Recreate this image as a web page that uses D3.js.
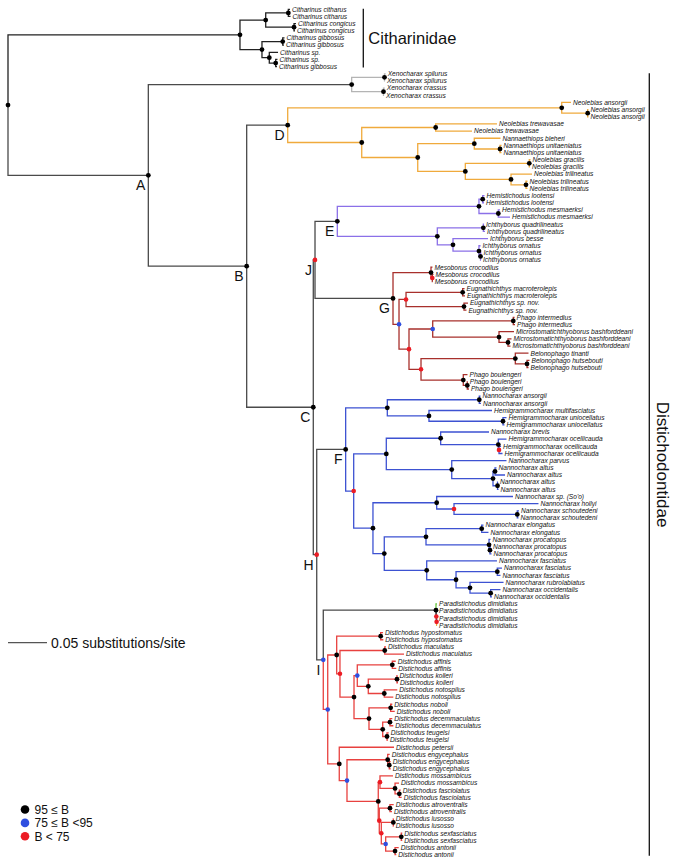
<!DOCTYPE html>
<html><head><meta charset="utf-8">
<script src="https://cdn.jsdelivr.net/npm/d3@7"></script>
<style>body{margin:0;background:#fff}</style>
</head><body>
<svg id="chart" width="683" height="864"></svg>
<script>
// ---------- DATA ----------
// Leaves: [name, parent node, cumulative distance from root (substitutions/site)] in top-to-bottom order
const citharinidaeLeaves = [
  ["Citharinus citharus","citP",0.3615],
  ["Citharinus citharus","citP",0.3622],
  ["Citharinus congicus","conP",0.3692],
  ["Citharinus congicus","conP",0.3679],
  ["Citharinus gibbosus","gibP",0.3545],
  ["Citharinus gibbosus","gibP",0.3538],
  ["Citharinus sp.","c3",0.3462],
  ["Citharinus sp.","c4",0.3455],
  ["Citharinus gibbosus","c4",0.3449]
];
const xenocharaxLeaves = [
  ["Xenocharax spilurus","xenoS",0.4842],
  ["Xenocharax spilurus","xenoS",0.4833],
  ["Xenocharax crassus","xenoC",0.4830],
  ["Xenocharax crassus","xenoC",0.4821]
];
const cladeDLeaves = [
  ["Neolebias ansorgii","nAns",0.7218],
  ["Neolebias ansorgii","nAns2",0.7442],
  ["Neolebias ansorgii","nAns2",0.7442],
  ["Neolebias trewavasae","trew",0.6269],
  ["Neolebias trewavasae","trew",0.5949],
  ["Nannaethiops bleheri","nanna",0.6314],
  ["Nannaethiops unitaeniatus","uni",0.6327],
  ["Nannaethiops unitaeniatus","uni",0.6327],
  ["Neolebias gracilis","grac",0.6699],
  ["Neolebias gracilis","grac",0.6692],
  ["Neolebias trilineatus","tril",0.6718],
  ["Neolebias trilineatus","tril2",0.6660],
  ["Neolebias trilineatus","tril2",0.6660]
];
const cladeELeaves = [
  ["Hemistichodus lootensi","hLoot",0.6109],
  ["Hemistichodus lootensi","hLoot",0.6103],
  ["Hemistichodus mesmaerksi","hMes",0.6308],
  ["Hemistichodus mesmaerksi","hMes",0.6436],
  ["Ichthyborus quadrilineatus","iQuad",0.6103],
  ["Ichthyborus quadrilineatus","iQuad",0.6115],
  ["Ichthyborus besse","i2",0.6154],
  ["Ichthyborus ornatus","iOrn",0.6058],
  ["Ichthyborus ornatus","iOrn2",0.6071],
  ["Ichthyborus ornatus","iOrn2",0.6064]
];
const cladeGLeaves = [
  ["Mesoborus crocodilus","mes1",0.5442],
  ["Mesoborus crocodilus","mes2",0.5455],
  ["Mesoborus crocodilus","mes2",0.5446],
  ["Eugnathichthys macroterolepis","eMac",0.5853],
  ["Eugnathichthys macroterolepis","eMac",0.5859],
  ["Eugnathichthys sp. nov.","eSp",0.5897],
  ["Eugnathichthys sp. nov.","eSp",0.5878],
  ["Phago intermedius","pInt",0.6494],
  ["Phago intermedius","pInt",0.6500],
  ["Microstomatichthyoborus bashforddeani","micro",0.6487],
  ["Microstomatichthyoborus bashforddeani","micro2",0.6455],
  ["Microstomatichthyoborus bashforddeani","micro2",0.6442],
  ["Belonophago tinanti","belo",0.6673],
  ["Belonophago hutsebouti","belo2",0.6686],
  ["Belonophago hutsebouti","belo2",0.6673],
  ["Phago boulengeri","pb1",0.5891],
  ["Phago boulengeri","pb2",0.5895],
  ["Phago boulengeri","pb2",0.5910]
];
const cladeFLeaves = [
  ["Nannocharax ansorgii","nAnsP",0.6058],
  ["Nannocharax ansorgii","nAnsP",0.6064],
  ["Hemigrammocharax multifasciatus","hemig",0.6205],
  ["Hemigrammocharax uniocellatus","uniP",0.6391],
  ["Hemigrammocharax uniocellatus","uniP",0.6365],
  ["Nannocharax brevis","F5",0.6167],
  ["Hemigrammocharax ocellicauda","oce",0.6391],
  ["Hemigrammocharax ocellicauda","oce2",0.6321],
  ["Hemigrammocharax ocellicauda","oce2",0.6340],
  ["Nannocharax parvus","F6",0.6391],
  ["Nannocharax altus","al2",0.6263],
  ["Nannocharax altus","al2",0.6372],
  ["Nannocharax altus","al3",0.6282],
  ["Nannocharax altus","al3",0.6289],
  ["Nannocharax sp. (So'o)","F8",0.6474],
  ["Nannocharax hollyi","hol",0.6801],
  ["Nannocharax schoutedeni","sch",0.6551],
  ["Nannocharax schoutedeni","sch",0.6545],
  ["Nannocharax elongatus","elo",0.6096],
  ["Nannocharax elongatus","elo",0.6160],
  ["Nannocharax procatopus","pro1",0.6186],
  ["Nannocharax procatopus","pro2",0.6192],
  ["Nannocharax procatopus","pro2",0.6199],
  ["Nannocharax fasciatus","F11",0.6269],
  ["Nannocharax fasciatus","fasP",0.6333],
  ["Nannocharax fasciatus","fasP",0.6314],
  ["Nannocharax rubrolabiatus","F13",0.6353],
  ["Nannocharax occidentalis","occ",0.6314],
  ["Nannocharax occidentalis","occ",0.6205]
];
const cladeILeaves = [
  ["Paradistichodus dimidiatus","para1",0.5500],
  ["Paradistichodus dimidiatus","para2",0.5500],
  ["Paradistichodus dimidiatus","para3",0.5500],
  ["Paradistichodus dimidiatus","para3",0.5500],
  ["Distichodus hypostomatus","hyp",0.4808],
  ["Distichodus hypostomatus","hyp",0.4812],
  ["Distichodus maculatus","mac",0.4846],
  ["Distichodus maculatus","mac",0.5077],
  ["Distichodus affinis","aff",0.4971],
  ["Distichodus affinis","aff",0.4978],
  ["Distichodus kolleri","kol",0.4994],
  ["Distichodus kolleri","kol",0.5000],
  ["Distichodus notospilus","not",0.4991],
  ["Distichodus notospilus","not",0.4940],
  ["Distichodus noboli","nob",0.4927],
  ["Distichodus noboli","nob",0.4958],
  ["Distichodus decemmaculatus","dec",0.4927],
  ["Distichodus decemmaculatus","dec",0.4940],
  ["Distichodus teugelsi","teu",0.4881],
  ["Distichodus teugelsi","teu",0.4872],
  ["Distichodus petersii","I4",0.4949],
  ["Distichodus engycephalus","eng1",0.4894],
  ["Distichodus engycephalus","eng2",0.4906],
  ["Distichodus engycephalus","eng2",0.4906],
  ["Distichodus mossambicus","M1",0.4936],
  ["Distichodus mossambicus","M2",0.5013],
  ["Distichodus fasciolatus","fol",0.5035],
  ["Distichodus fasciolatus","fol",0.5047],
  ["Distichodus atroventralis","atr",0.4945],
  ["Distichodus atroventralis","atr",0.4923],
  ["Distichodus lusosso","lus",0.4945],
  ["Distichodus lusosso","lus",0.4945],
  ["Distichodus sexfasciatus","sex",0.5055],
  ["Distichodus sexfasciatus","sex",0.5055],
  ["Distichodus antonii","ant",0.5009],
  ["Distichodus antonii","ant",0.4978]
];

// Internal nodes: [id, parent, cumulative distance, bootstrap class ("hi": 95<=B, "mid": 75<=B<95, "lo": B<75)]
const backboneNodes = [
  ["root",null,0,"hi"],
  ["cith","root",0.2974,"hi"],
  ["A","root",0.1799,"hi"],
  ["xeno","A",0.4406,"hi"],
  ["B","A",0.3060,"hi"],
  ["D","B",0.3586,"hi"],
  ["C","B",0.3914,"hi"],
  ["J","C",0.3936,"lo"],
  ["H","C",0.3958,"lo"],
  ["E","J",0.4222,"hi"],
  ["G","J",0.4936,"hi"],
  ["F","H",0.4329,"hi"],
  ["I","H",0.4042,"mid"]
];
const citharinidaeNodes = [
  ["c1","cith",0.3304,"hi"],
  ["c2","cith",0.3256,"hi"],
  ["citP","c1",0.3594,"hi"],
  ["conP","c1",0.3667,"hi"],
  ["gibP","c2",0.3522,"hi"],
  ["c3","c2",0.3350,"hi"],
  ["c4","c3",0.3432,"hi"],
  ["xenoS","xeno",0.4827,"hi"],
  ["xenoC","xeno",0.4814,"hi"]
];
const cladeDNodes = [
  ["nAns","D",0.7099,"hi"],
  ["nAns2","nAns",0.7432,"hi"],
  ["D2","D",0.4535,"hi"],
  ["trew","D2",0.5483,"hi"],
  ["D3","D2",0.5253,"hi"],
  ["nanna","D3",0.5978,"hi"],
  ["uni","nanna",0.6308,"hi"],
  ["D4","D3",0.5863,"hi"],
  ["grac","D4",0.6683,"hi"],
  ["tril","D4",0.6449,"hi"],
  ["tril2","tril",0.6641,"hi"]
];
const cladeENodes = [
  ["hemi","E",0.6038,"hi"],
  ["hLoot","hemi",0.6086,"hi"],
  ["hMes","hemi",0.6286,"hi"],
  ["ich","E",0.5504,"hi"],
  ["iQuad","ich",0.6094,"hi"],
  ["i2","ich",0.5705,"hi"],
  ["iOrn","i2",0.6038,"hi"],
  ["iOrn2","iOrn",0.6058,"hi"]
];
const cladeGNodes = [
  ["mes1","G",0.5423,"hi"],
  ["mes2","mes1",0.5440,"lo"],
  ["G2","G",0.5013,"mid"],
  ["eug","G2",0.5103,"lo"],
  ["eMac","eug",0.5829,"hi"],
  ["eSp","eug",0.5846,"hi"],
  ["G3","G2",0.5141,"lo"],
  ["G4","G3",0.5445,"mid"],
  ["pInt","G4",0.6478,"hi"],
  ["micro","G4",0.6295,"hi"],
  ["micro2","micro",0.6410,"hi"],
  ["G5","G3",0.5295,"lo"],
  ["belo","G5",0.6504,"hi"],
  ["belo2","belo",0.6654,"hi"],
  ["pb1","G5",0.5837,"hi"],
  ["pb2","pb1",0.5888,"hi"]
];
const cladeFNodes = [
  ["F1","F",0.4863,"hi"],
  ["nAnsP","F1",0.6042,"hi"],
  ["hemig","F1",0.5397,"hi"],
  ["uniP","hemig",0.6346,"hi"],
  ["F2","F",0.4432,"lo"],
  ["F3","F2",0.4850,"hi"],
  ["F5","F3",0.5547,"hi"],
  ["oce","F5",0.6286,"hi"],
  ["oce2","oce",0.6295,"lo"],
  ["F6","F3",0.5689,"hi"],
  ["al1","F6",0.6218,"hi"],
  ["al2","al1",0.6244,"hi"],
  ["al3","al1",0.6276,"hi"],
  ["F4","F2",0.4679,"hi"],
  ["F8","F4",0.5496,"hi"],
  ["hol","F8",0.5718,"lo"],
  ["sch","hol",0.6529,"hi"],
  ["F9","F4",0.4824,"hi"],
  ["F10","F9",0.5359,"hi"],
  ["elo","F10",0.6073,"hi"],
  ["pro1","F10",0.6167,"hi"],
  ["pro2","pro1",0.6179,"hi"],
  ["F11","F9",0.5368,"hi"],
  ["F12","F11",0.5744,"hi"],
  ["fasP","F12",0.6273,"hi"],
  ["F13","F12",0.5923,"hi"],
  ["occ","F13",0.6188,"hi"]
];
const cladeINodes = [
  ["para1","I",0.5487,"hi"],
  ["para2","para1",0.5491,"lo"],
  ["para3","para2",0.5495,"lo"],
  ["I2","I",0.4099,"mid"],
  ["I3","I2",0.4214,"hi"],
  ["hyp","I3",0.4778,"hi"],
  ["I5","I3",0.4256,"lo"],
  ["mac","I5",0.4830,"hi"],
  ["I6","I5",0.4436,"hi"],
  ["I7","I6",0.4478,"mid"],
  ["aff","I7",0.4927,"hi"],
  ["I9","I7",0.4619,"hi"],
  ["kol","I9",0.4987,"hi"],
  ["not","I9",0.4824,"hi"],
  ["I8","I6",0.4628,"hi"],
  ["nob","I8",0.4906,"hi"],
  ["I10","I8",0.4804,"hi"],
  ["dec","I10",0.4897,"hi"],
  ["teu","I10",0.4859,"hi"],
  ["I4","I2",0.4247,"hi"],
  ["I11","I4",0.4346,"mid"],
  ["eng1","I11",0.4868,"hi"],
  ["eng2","eng1",0.4888,"hi"],
  ["I12","I11",0.4747,"hi"],
  ["M1","I12",0.4769,"lo"],
  ["M2","M1",0.4962,"hi"],
  ["fol","M2",0.5017,"hi"],
  ["L1n","I12",0.4760,"lo"],
  ["atr","L1n",0.4897,"hi"],
  ["L2n","L1n",0.4786,"lo"],
  ["lus","L2n",0.4940,"hi"],
  ["L3n","L2n",0.4842,"mid"],
  ["sex","L3n",0.5042,"hi"],
  ["ant","L3n",0.4962,"hi"]
];
const cladeLetters = ["A","B","C","D","E","F","G","H","I","J"];
const families = [
  ["Citharinidae", 0, 8],
  ["Distichodontidae", 9, 118]
];
const scaleBarValue = 0.05;
const scaleBarLabel = "0.05 substitutions/site";
const legendItems = [["hi","95 \u2264 B"],["mid","75 \u2264 B <95"],["lo","B < 75"]];

// ---------- STYLE ----------
const BACKBONE = "#4a4a4a";
const supportColor = {hi:"#000000", mid:"#2f4fe0", lo:"#ec1c24"};
const ORANGE = "#f0aa3c", PURPLE = "#8b70e8", DARKRED = "#a8302c", BLUE = "#3d52d2", RED = "#e8413f";
const edgeColorStart = {
  cith:"#222222", xenoS:"#b4b4b4", xenoC:"#b4b4b4",
  nAns:ORANGE, D2:ORANGE,
  hemi:PURPLE, ich:PURPLE,
  mes1:DARKRED, G2:DARKRED,
  F1:BLUE, F2:BLUE,
  I2:RED, L83:"#6cc644", L86:"#e8b040"
};
const FONT = "'Liberation Sans', Arial, sans-serif";

// ---------- BUILD ----------
const leaves = [].concat(citharinidaeLeaves, xenocharaxLeaves, cladeDLeaves, cladeELeaves,
  cladeGLeaves, cladeFLeaves, cladeILeaves);
const internals = [].concat(backboneNodes, citharinidaeNodes, cladeDNodes, cladeENodes,
  cladeGNodes, cladeFNodes, cladeINodes);

const rows = internals.map(d => ({id:d[0], parent:d[1], depth:d[2], support:d[3]}))
  .concat(leaves.map((d,i) => ({id:"L"+i, parent:d[1], depth:d[2], name:d[0], leafIndex:i})));

const root = d3.stratify().id(d => d.id).parentId(d => d.parent)(rows);

const x = d3.scaleLinear().domain([0, scaleBarValue]).range([8, 47]);
const y = d3.scalePoint().domain(d3.range(leaves.length)).range([9.3, 854.7]);

root.eachAfter(n => {
  n.px = x(n.data.depth);
  if (!n.children) n.py = y(n.data.leafIndex);
  else {
    const ys = n.children.map(c => c.py);
    n.py = (d3.min(ys) + d3.max(ys)) / 2;
  }
});
root.eachBefore(n => {
  n.color = edgeColorStart[n.id] || (n.parent ? n.parent.color : BACKBONE);
});

const svg = d3.select("#chart");
const nodes = root.descendants();

// branches
svg.append("g").attr("fill","none").attr("stroke-width",1.3)
  .selectAll("path").data(nodes.filter(n => n.parent)).join("path")
  .attr("stroke", n => n.color)
  .attr("d", n => `M${n.parent.px},${n.parent.py}V${n.py}H${n.px}`);

// support dots
svg.append("g").selectAll("circle").data(nodes.filter(n => n.children)).join("circle")
  .attr("cx", n => n.px).attr("cy", n => n.py)
  .attr("r", n => n.data.support === "hi" ? 2.4 : 2.3)
  .attr("fill", n => supportColor[n.data.support]);

// leaf labels
svg.append("g").attr("font-family",FONT)
  .attr("font-style","italic").attr("font-size",6.6).attr("fill","#111")
  .selectAll("text").data(root.leaves()).join("text")
  .attr("x", n => n.px + 2).attr("y", n => n.py).attr("dy","0.35em")
  .text(n => n.data.name);

// clade letters
const byId = new Map(nodes.map(n => [n.id, n]));
svg.append("g").attr("font-family",FONT)
  .attr("font-size",14).attr("fill","#111").attr("text-anchor","end")
  .selectAll("text").data(cladeLetters).join("text")
  .attr("x", k => byId.get(k).px - 3).attr("y", k => byId.get(k).py + 15)
  .text(k => k);

// family bars
const fam = svg.append("g").attr("font-family",FONT).attr("fill","#111");
const famBarX = [363.3, 649.3];
families.forEach((f, i) => {
  const y0 = y(f[1]) - 0.5, y1 = y(f[2]) + 1;
  fam.append("line").attr("x1", famBarX[i]).attr("x2", famBarX[i])
    .attr("y1", y0).attr("y2", y1).attr("stroke","#111").attr("stroke-width",1.3);
  if (i === 0) {
    fam.append("text").attr("x", famBarX[i] + 5).attr("y", (y0 + y1) / 2 + 6)
      .attr("font-size",16.5).text(f[0]);
  } else {
    const cx = famBarX[i] + 14, cy = (y0 + y1) / 2;
    fam.append("text").attr("transform", `translate(${cx},${cy}) rotate(90)`)
      .attr("text-anchor","middle").attr("font-size",17).attr("dy","0.35em").text(f[0]);
  }
});

// scale bar
const sb = svg.append("g");
sb.append("line").attr("x1", x(0)).attr("x2", x(scaleBarValue)).attr("y1",642.7).attr("y2",642.7)
  .attr("stroke","#555").attr("stroke-width",1.3);
sb.append("text").attr("x", x(scaleBarValue) + 4).attr("y", 647.5)
  .attr("font-family",FONT).attr("font-size",14).attr("fill","#111")
  .text(scaleBarLabel);

// legend
const lg = svg.append("g").attr("font-family",FONT);
legendItems.forEach((d, i) => {
  const cy = 809.5 + i * 13.4;
  lg.append("circle").attr("cx",25).attr("cy",cy).attr("r",4.3).attr("fill",supportColor[d[0]]);
  lg.append("text").attr("x",34.5).attr("y",cy + 4.4).attr("font-size",12).attr("fill","#111").text(d[1]);
});
</script>
</body></html>
